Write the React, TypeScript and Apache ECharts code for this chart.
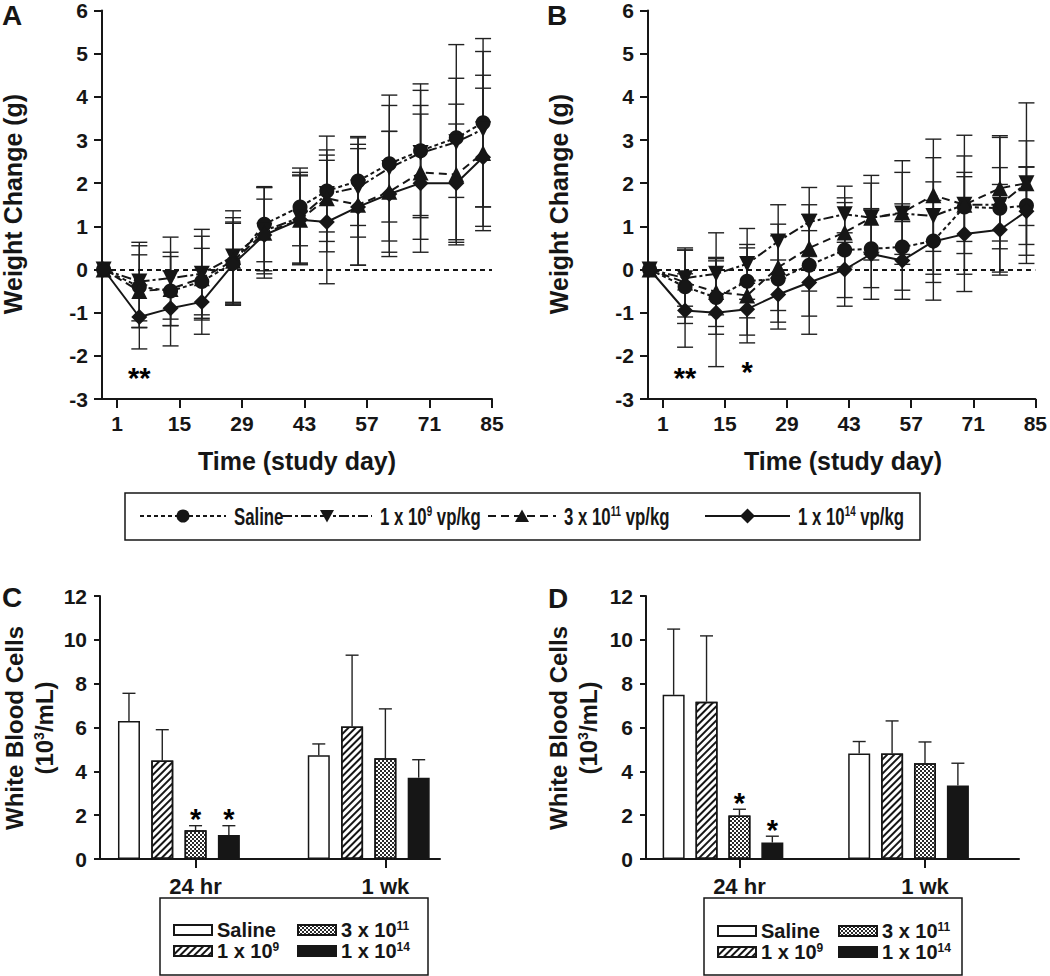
import React, { useEffect, useRef } from 'react';
import * as echarts from 'echarts';

const FONT = '"Liberation Sans", Arial, Helvetica, sans-serif';
const INK = '#161616';

// ---------- Panels A & B : weight change (g) ----------
const studyDays = [-2, 6, 13, 20, 27, 34, 42, 48, 55, 62, 69, 77, 83];
const dayTicks = [1, 15, 29, 43, 57, 71, 85];

const salineA = [0, -0.40, -0.50, -0.28, 0.15, 1.05, 1.45, 1.82, 2.05, 2.45, 2.75, 3.05, 3.40];
const salineAsd = [0, 0.95, 0.80, 0.77, 0.95, 0.87, 0.90, 0.95, 1.03, 1.35, 1.55, 1.38, 1.95];
const e9A = [0, -0.28, -0.20, -0.10, 0.30, 0.90, 1.20, 1.75, 1.90, 2.35, 2.70, 2.95, 3.25];
const e9Asd = [0, 0.91, 0.95, 1.03, 1.06, 1.00, 1.05, 1.34, 1.15, 1.69, 1.45, 2.26, 1.80];
const e11A = [0, -0.50, -0.45, -0.20, 0.20, 0.85, 1.15, 1.65, 1.50, 1.80, 2.25, 2.20, 2.70];
const e11Asd = [0, 0.84, 0.85, 0.97, 1.00, 1.05, 1.04, 1.00, 1.40, 1.40, 1.55, 1.63, 1.80];
const e14A = [0, -1.10, -0.90, -0.75, 0.12, 0.80, 1.15, 1.10, 1.45, 1.75, 2.00, 2.00, 2.60];
const e14Asd = [0, 0.74, 0.87, 0.75, 0.95, 0.83, 1.02, 1.43, 1.35, 1.45, 1.60, 1.37, 1.60];

const salineB = [0, -0.40, -0.65, -0.27, -0.22, 0.10, 0.45, 0.48, 0.52, 0.66, 1.45, 1.42, 1.48];
const salineBsd = [0, 0.85, 0.85, 0.85, 1.00, 1.18, 1.10, 0.90, 1.00, 1.37, 0.80, 0.94, 0.90];
const e9B = [0, -0.20, -0.10, 0.13, 0.65, 1.10, 1.28, 1.20, 1.30, 1.24, 1.50, 1.50, 2.00];
const e9Bsd = [0, 0.65, 0.95, 0.82, 0.85, 0.80, 0.65, 0.80, 0.95, 1.35, 1.13, 1.56, 0.98];
const e11B = [0, -0.30, -0.52, -0.60, 0.05, 0.50, 0.86, 1.20, 1.32, 1.72, 1.50, 1.88, 2.00];
const e11Bsd = [0, 0.80, 0.80, 1.10, 1.00, 1.00, 0.80, 0.98, 1.20, 1.30, 1.61, 1.22, 1.86];
const e14B = [0, -0.95, -1.00, -0.92, -0.58, -0.30, 0.00, 0.36, 0.21, 0.65, 0.82, 0.92, 1.35];
const e14Bsd = [0, 0.85, 1.25, 0.60, 0.80, 1.20, 0.85, 1.05, 0.90, 0.95, 1.33, 1.05, 1.02];

// significance marks (study day, y position of mark, text)
const starsA = [{ day: 6, y: -2.51, t: '**' }];
const starsB = [{ day: 6, y: -2.51, t: '**' }, { day: 20, y: -2.38, t: '*' }];

// ---------- Panels C & D : white blood cells (10^3/mL) ----------
const wbcTimes = ['24 hr', '1 wk'];
const cSaline = [6.3, 4.73];
const cSalineSd = [1.26, 0.52];
const cE9 = [4.5, 6.05];
const cE9Sd = [1.4, 3.25];
const cE11 = [1.31, 4.6];
const cE11Sd = [0.21, 2.25];
const cE14 = [1.1, 3.71];
const cE14Sd = [0.42, 0.82];

const dSaline = [7.49, 4.81];
const dSalineSd = [3.0, 0.55];
const dE9 = [7.18, 4.81];
const dE9Sd = [3.0, 1.49];
const dE11 = [1.98, 4.37];
const dE11Sd = [0.29, 0.97];
const dE14 = [0.75, 3.35];
const dE14Sd = [0.29, 1.02];

// significant bars: [time index, dose index]
const starsC = [[0, 2], [0, 3]];
const starsD = [[0, 2], [0, 3]];

// legend texts
const doseBase = ['Saline', '1 x 10', '3 x 10', '1 x 10'];
const doseExp = ['', '9', '11', '14'];

// ---------- styles / layout (not data) ----------
const lineDash: any[] = [[4, 3], [10, 3, 3, 3], [8, 5], 'solid'];
const symbols = ['circle', 'triangle', 'triangle', 'diamond'];
const symRot = [0, 180, 0, 0];
const symSize = [15, 16, 16, 16];

const barStep = [5.7, 5.64];
const barOff = [0.87, 0.84];
const barMax = [340 / 33.3, 373 / 32.9];

const hatch = { symbol: 'rect', symbolSize: 1, color: INK, dashArrayX: [1, 0], dashArrayY: [1.6, 3], rotation: -Math.PI / 4 };
const checker = { symbol: 'rect', symbolSize: 1, color: '#2a2a2a', dashArrayX: [[2, 2], [0, 2, 2, 0]], dashArrayY: [2, 0], rotation: 0 };

const richSup = {
  t: { fontSize: 20, fontWeight: 'bold', fontFamily: FONT, color: INK },
  s: { fontSize: 12, fontWeight: 'bold', fontFamily: FONT, color: INK, verticalAlign: 'top', lineHeight: 14 },
};

const makeErr = (cap: number, lower: boolean) => (_p: any, api: any) => {
  const x = api.value(0);
  const lo = api.coord([x, api.value(1)]);
  const hi = api.coord([x, api.value(2)]);
  const st = { stroke: '#222', lineWidth: 1.4 };
  const ch: any[] = [
    { type: 'line', shape: { x1: lo[0], y1: lo[1], x2: hi[0], y2: hi[1] }, style: st },
    { type: 'line', shape: { x1: hi[0] - cap / 2, y1: hi[1], x2: hi[0] + cap / 2, y2: hi[1] }, style: st },
  ];
  if (lower) ch.push({ type: 'line', shape: { x1: lo[0] - cap / 2, y1: lo[1], x2: lo[0] + cap / 2, y2: lo[1] }, style: st });
  return { type: 'group', children: ch };
};

// asterisk annotation drawn at a data coordinate
const starRender = (texts: string[]) => (p: any, api: any) => {
  const pt = api.coord([api.value(0), api.value(1)]);
  return {
    type: 'text', x: pt[0], y: pt[1],
    style: { text: texts[p.dataIndex], fill: '#000', fontSize: 29, fontWeight: 'bold', fontFamily: FONT, align: 'center', verticalAlign: 'middle' },
  };
};

function buildOption() {
  const weightSets = [
    [[salineA, salineAsd], [e9A, e9Asd], [e11A, e11Asd], [e14A, e14Asd]],
    [[salineB, salineBsd], [e9B, e9Bsd], [e11B, e11Bsd], [e14B, e14Bsd]],
  ];
  const wbcSets = [
    [[cSaline, cSalineSd], [cE9, cE9Sd], [cE11, cE11Sd], [cE14, cE14Sd]],
    [[dSaline, dSalineSd], [dE9, dE9Sd], [dE11, dE11Sd], [dE14, dE14Sd]],
  ];

  const axisLine = { show: true, onZero: false, lineStyle: { color: INK, width: 2 } };
  const lbl = (size: number, margin: number) => ({ show: true, margin, fontSize: size, fontWeight: 'bold', color: INK, fontFamily: FONT });

  const xAxis: any[] = [0, 1].map((i) => ({
    type: 'value', gridIndex: i, min: -2.36, max: 85,
    axisLine,
    axisTick: { show: true, customValues: dayTicks, length: 9, lineStyle: { color: INK, width: 2 } },
    axisLabel: { ...lbl(21, 14), customValues: dayTicks },
    splitLine: { show: false },
  }));
  [0, 1].forEach((p) => {
    const tickPos = wbcTimes.map((_, g) => g * barStep[p] + 2 + barOff[p]);
    xAxis.push({
      type: 'value', gridIndex: 2 + p, min: 0, max: barMax[p],
      axisLine,
      axisTick: { show: true, customValues: tickPos, length: 9, lineStyle: { color: INK, width: 2 } },
      axisLabel: {
        ...lbl(22, 16), customValues: tickPos,
        formatter: (v: number) => wbcTimes[Math.round((v - 2 - barOff[p]) / barStep[p])] || '',
      },
      splitLine: { show: false },
    });
  });

  const yAxis: any[] = [0, 1].map((i) => ({
    type: 'value', gridIndex: i, min: -3, max: 6, interval: 1,
    axisLine,
    axisTick: { show: true, length: 8, lineStyle: { color: INK, width: 2 } },
    axisLabel: lbl(21, 14),
    splitLine: { show: false },
  }));
  [2, 3].forEach((i) => yAxis.push({
    type: 'value', gridIndex: i, min: 0, max: 12, interval: 2,
    axisLine,
    axisTick: { show: true, length: 6, lineStyle: { color: INK, width: 2 } },
    axisLabel: lbl(21, 13),
    splitLine: { show: false },
  }));

  const series: any[] = [];
  weightSets.forEach((sets, p) => {
    sets.forEach(([m, sd]) => {
      series.push({
        type: 'custom', xAxisIndex: p, yAxisIndex: p, z: 1, silent: true,
        renderItem: makeErr(16, true),
        encode: { x: 0, y: [1, 2] },
        data: studyDays.map((d, i) => [d, m[i] - sd[i], m[i] + sd[i]]).filter((_, i) => sd[i] > 0),
      });
    });
    sets.forEach(([m], k) => {
      const s: any = {
        type: 'line', name: 'w' + p + '-' + k, xAxisIndex: p, yAxisIndex: p, z: 3 + k,
        data: studyDays.map((d, i) => [d, m[i]]),
        symbol: symbols[k], symbolRotate: symRot[k], symbolSize: symSize[k],
        showSymbol: true,
        itemStyle: { color: INK, borderWidth: 0 },
        lineStyle: { color: INK, width: 2, type: lineDash[k] },
      };
      if (k === 0) {
        s.markLine = {
          silent: true, symbol: 'none', label: { show: false }, z: 2,
          lineStyle: { type: [5, 4], color: INK, width: 2 },
          data: [{ yAxis: 0 }],
        };
      }
      series.push(s);
    });
    const st = p === 0 ? starsA : starsB;
    series.push({
      type: 'custom', xAxisIndex: p, yAxisIndex: p, z: 8, silent: true,
      renderItem: starRender(st.map((o) => o.t)),
      encode: { x: 0, y: 1 },
      data: st.map((o) => [o.day, o.y]),
    });
  });

  const fills = ['#ffffff', '#ffffff', '#ffffff', INK];
  const decals: any[] = [null, hatch, checker, null];
  wbcSets.forEach((sets, p) => {
    sets.forEach(([m], k) => {
      series.push({
        type: 'bar', name: (p === 0 ? 'C' : 'D') + k, xAxisIndex: 2 + p, yAxisIndex: 2 + p,
        barWidth: 22, barGap: '-100%', z: 2,
        data: m.map((v, g) => [g * barStep[p] + k + barOff[p], v]),
        itemStyle: { color: fills[k], borderColor: INK, borderWidth: 1.5, decal: decals[k] || undefined },
      });
    });
    sets.forEach(([m, sd], k) => {
      series.push({
        type: 'custom', xAxisIndex: 2 + p, yAxisIndex: 2 + p, z: 3, silent: true,
        renderItem: makeErr(13, false),
        encode: { x: 0, y: [1, 2] },
        data: m.map((v, g) => [g * barStep[p] + k + barOff[p], v, v + sd[g]]),
      });
    });
    const st = p === 0 ? starsC : starsD;
    series.push({
      type: 'custom', xAxisIndex: 2 + p, yAxisIndex: 2 + p, z: 8, silent: true,
      renderItem: starRender(st.map(() => '*')),
      encode: { x: 0, y: 1 },
      data: st.map(([g, k]) => [g * barStep[p] + k + barOff[p], sets[k][0][g] + sets[k][1][g] + 0.3]),
    });
  });

  const legPos = [
    [[173, 920], [173, 941], [297, 920], [297, 941]],
    [[717, 921], [717, 942], [838, 921], [838, 942]],
  ];
  const legend: any[] = [];
  [0, 1].forEach((p) => {
    [0, 1, 2, 3].forEach((k) => {
      legend.push({
        data: [(p === 0 ? 'C' : 'D') + k], left: legPos[p][k][0], top: legPos[p][k][1],
        padding: 0, itemWidth: 38, itemHeight: 10, itemGap: 0, selectedMode: false,
        icon: 'rect',
        formatter: () => (doseExp[k] ? `{t|${doseBase[k]}}{s|${doseExp[k]}}` : `{t|${doseBase[k]}}`),
        textStyle: { fontSize: 20, fontWeight: 'bold', color: INK, fontFamily: FONT, rich: richSup },
      });
    });
  });

  const g: any[] = [];
  const txt = (text: string, x: number, y: number, size: number, extra: any = {}) => ({
    type: 'text', x, y, silent: true, ...extra,
    style: { text, fontSize: size, fontWeight: 'bold', fontFamily: FONT, fill: INK, align: 'center', verticalAlign: 'middle', ...(extra.style || {}) },
  });
  g.push(txt('A', 12, 15, 28), txt('B', 557, 15, 28), txt('C', 12, 597, 28), txt('D', 558, 598, 28));
  g.push(txt('Weight Change (g)', 13, 204, 25, { rotation: Math.PI / 2 }));
  g.push(txt('Weight Change (g)', 559, 204, 25, { rotation: Math.PI / 2 }));
  g.push(txt('Time (study day)', 297, 461, 25), txt('Time (study day)', 843, 461, 25));
  const wbcRich = { t: { fontSize: 24, fontWeight: 'bold', fontFamily: FONT, color: INK }, s: { fontSize: 14, fontWeight: 'bold', fontFamily: FONT, color: INK, verticalAlign: 'top', lineHeight: 18 } };
  [[14, 44], [558, 588]].forEach(([x1, x2]) => {
    g.push(txt('White Blood Cells', x1, 728, 24, { rotation: Math.PI / 2 }));
    g.push(txt('{t|(10}{s|3}{t|/mL)}', x2, 728, 24, { rotation: Math.PI / 2, style: { rich: wbcRich } }));
  });
  g.push({ type: 'rect', silent: true, shape: { x: 160, y: 898, width: 268, height: 77 }, style: { fill: 'none', stroke: INK, lineWidth: 1.5 } });
  g.push({ type: 'rect', silent: true, shape: { x: 704, y: 898, width: 258, height: 77 }, style: { fill: 'none', stroke: INK, lineWidth: 1.5 } });

  const ly = 516;
  g.push({ type: 'rect', silent: true, shape: { x: 125, y: 493, width: 795, height: 47 }, style: { fill: 'none', stroke: INK, lineWidth: 1.5 } });
  const lgLine = [[140, 226], [282, 372], [488, 556], [705, 790]];
  const lgText = [234, 380, 564, 798];
  const richLeg = {
    t: { fontSize: 24, fontWeight: 'bold', fontFamily: FONT, color: INK },
    s: { fontSize: 14, fontWeight: 'bold', fontFamily: FONT, color: INK, verticalAlign: 'top', lineHeight: 15 },
  };
  [0, 1, 2, 3].forEach((k) => {
    const [a, b] = lgLine[k];
    const c = (a + b) / 2;
    g.push({ type: 'line', silent: true, shape: { x1: a, y1: ly, x2: b, y2: ly }, style: { stroke: INK, lineWidth: 2, lineDash: lineDash[k] === 'solid' ? null : lineDash[k] } });
    let mk: any;
    if (k === 0) mk = { type: 'circle', shape: { cx: c, cy: ly, r: 6.5 } };
    else if (k === 1) mk = { type: 'polygon', shape: { points: [[c - 7, ly - 6], [c + 7, ly - 6], [c, ly + 6.5]] } };
    else if (k === 2) mk = { type: 'polygon', shape: { points: [[c - 7, ly + 6], [c + 7, ly + 6], [c, ly - 6.5]] } };
    else mk = { type: 'polygon', shape: { points: [[c, ly - 7.5], [c + 7.5, ly], [c, ly + 7.5], [c - 7.5, ly]] } };
    mk.silent = true;
    mk.style = { fill: INK };
    g.push(mk);
    const t = doseExp[k] ? `{t|${doseBase[k]}}{s|${doseExp[k]}}{t| vp/kg}` : `{t|${doseBase[k]}}`;
    g.push({
      type: 'text', x: lgText[k], y: ly, scaleX: 0.7, silent: true,
      style: { text: t, rich: richLeg, fontSize: 24, fontWeight: 'bold', fontFamily: FONT, fill: INK, align: 'left', verticalAlign: 'middle' },
    });
  });

  return {
    animation: false,
    backgroundColor: '#ffffff',
    textStyle: { fontFamily: FONT },
    grid: [
      { left: 102, top: 8.7, width: 390, height: 390.3 },
      { left: 648, top: 8.7, width: 390, height: 390.3 },
      { left: 100, top: 596, width: 340, height: 263 },
      { left: 646, top: 596, width: 373, height: 263 },
    ],
    xAxis, yAxis, legend, series,
    graphic: { elements: g },
  };
}

export default function App() {
  const ref = useRef<HTMLDivElement>(null);
  useEffect(() => {
    if (!ref.current) return;
    const chart = echarts.init(ref.current, null, { renderer: 'svg' });
    chart.setOption(buildOption() as any);
    return () => chart.dispose();
  }, []);
  return (
    <div
      ref={ref}
      style={{ position: 'absolute', left: 0, top: 0, width: 1050, height: 976, background: '#fff' }}
    />
  );
}
